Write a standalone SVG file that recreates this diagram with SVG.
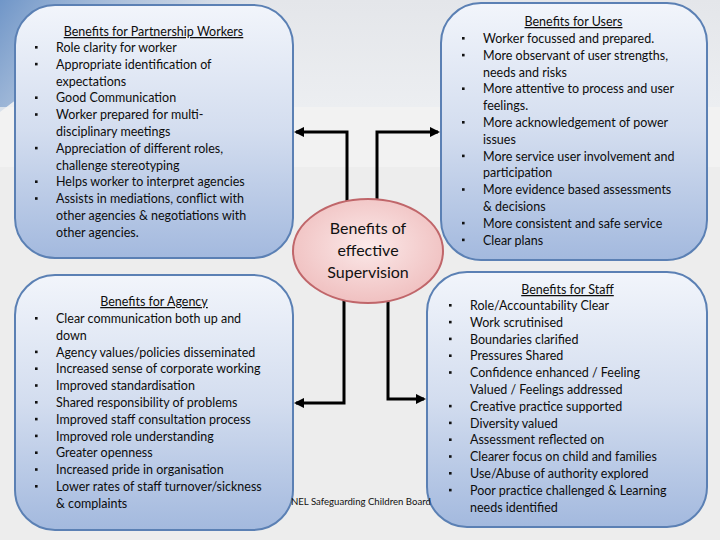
<svg xmlns="http://www.w3.org/2000/svg" width="720" height="540" viewBox="0 0 720 540">
<defs>
<linearGradient id="boxg" x1="0" y1="0" x2="0" y2="1">
<stop offset="0" stop-color="#f2f5fb"/>
<stop offset="0.5" stop-color="#d3ddef"/>
<stop offset="1" stop-color="#a3b9de"/>
</linearGradient>
<radialGradient id="ellg" cx="0.5" cy="0.45" r="0.6">
<stop offset="0" stop-color="#fbe9e9"/>
<stop offset="1" stop-color="#efbdbd"/>
</radialGradient>
<linearGradient id="topband" x1="0" y1="0" x2="0" y2="1">
<stop offset="0" stop-color="#e4e6ea"/>
<stop offset="1" stop-color="#eceef1"/>
</linearGradient>
<linearGradient id="swoosh" x1="0" y1="0" x2="1" y2="0.3">
<stop offset="0" stop-color="#7096c8"/>
<stop offset="0.6" stop-color="#a9bfdc" stop-opacity="0.6"/>
<stop offset="1" stop-color="#e4e6ea" stop-opacity="0"/>
</linearGradient>
<marker id="ah" viewBox="0 0 10 10" refX="8" refY="5" markerWidth="3.4" markerHeight="3.4" orient="auto" markerUnits="strokeWidth">
<path d="M0,0 L10,5 L0,10 z" fill="#000"/>
</marker>
<rect id="b" width="2.6" height="2.6" fill="#111"/>
</defs>
<style>
.box{fill:url(#boxg);stroke:#5b80b4;stroke-width:2}
.t{font-family:Lato,"Liberation Sans",sans-serif;font-size:12.5px;fill:#0d0d0d;}
.h{text-decoration:underline;text-anchor:middle}
.c{fill:none;stroke:#000;stroke-width:3;marker-end:url(#ah)}
.e{font-family:Lato,"Liberation Sans",sans-serif;font-size:16px;fill:#111;text-anchor:middle}
</style>
<rect width="720" height="540" fill="#ededed"/>
<rect width="720" height="107" fill="url(#topband)"/>
<path d="M0,0 L270,0 C170,18 70,55 0,112 Z" fill="url(#swoosh)"/>
<rect x="0" y="107" width="720" height="60" fill="#f3f3f3" opacity="0.7"/>

<g id="connectors">
<polyline class="c" points="347,205 347,132 296,132"/>
<polyline class="c" points="377,205 377,132 438,132"/>
<polyline class="c" points="344,298 344,403 296,403"/>
<polyline class="c" points="388,298 388,399 424,399"/>
</g>

<g id="partnership">
<rect class="box" x="15" y="5" width="278" height="253" rx="40" ry="40"/>
<text class="t h" x="153.5" y="36">Benefits for Partnership Workers</text>
<g class="t">
<text x="56" y="52">Role clarity for worker</text>
<text x="56" y="68.8">Appropriate identification of</text>
<text x="56" y="85.6">expectations</text>
<text x="56" y="102.4">Good Communication</text>
<text x="56" y="119.2">Worker prepared for multi-</text>
<text x="56" y="136">disciplinary meetings</text>
<text x="56" y="152.8">Appreciation of different roles,</text>
<text x="56" y="169.6">challenge stereotyping</text>
<text x="56" y="186.4">Helps worker to interpret agencies</text>
<text x="56" y="203.2">Assists in mediations, conflict with</text>
<text x="56" y="220">other agencies &amp; negotiations with</text>
<text x="56" y="236.8">other agencies.</text>
</g>
<use href="#b" x="35" y="46"/>
<use href="#b" x="35" y="62.8"/>
<use href="#b" x="35" y="96.4"/>
<use href="#b" x="35" y="113.2"/>
<use href="#b" x="35" y="146.8"/>
<use href="#b" x="35" y="180.4"/>
<use href="#b" x="35" y="197.2"/>
</g>

<g id="users">
<rect class="box" x="441" y="3" width="266" height="257" rx="40" ry="40"/>
<text class="t h" x="573.5" y="26">Benefits for Users</text>
<g class="t">
<text x="483" y="43">Worker focussed and prepared.</text>
<text x="483" y="59.8">More observant of user strengths,</text>
<text x="483" y="76.6">needs and risks</text>
<text x="483" y="93.4">More attentive to process and user</text>
<text x="483" y="110.2">feelings.</text>
<text x="483" y="127">More acknowledgement of power</text>
<text x="483" y="143.8">issues</text>
<text x="483" y="160.6">More service user involvement and</text>
<text x="483" y="177.4">participation</text>
<text x="483" y="194.2">More evidence based assessments</text>
<text x="483" y="211">&amp; decisions</text>
<text x="483" y="227.8">More consistent and safe service</text>
<text x="483" y="244.6">Clear plans</text>
</g>
<use href="#b" x="462" y="37"/>
<use href="#b" x="462" y="53.8"/>
<use href="#b" x="462" y="87.4"/>
<use href="#b" x="462" y="121"/>
<use href="#b" x="462" y="154.6"/>
<use href="#b" x="462" y="188.2"/>
<use href="#b" x="462" y="221.8"/>
<use href="#b" x="462" y="238.6"/>
</g>

<g id="agency">
<rect class="box" x="15" y="275" width="278" height="255" rx="40" ry="40"/>
<text class="t h" x="154" y="306">Benefits for Agency</text>
<g class="t">
<text x="56" y="323">Clear communication both up and</text>
<text x="56" y="339.8">down</text>
<text x="56" y="356.6">Agency values/policies disseminated</text>
<text x="56" y="373.4">Increased sense of corporate working</text>
<text x="56" y="390.2">Improved standardisation</text>
<text x="56" y="407">Shared responsibility of problems</text>
<text x="56" y="423.8">Improved staff consultation process</text>
<text x="56" y="440.6">Improved role understanding</text>
<text x="56" y="457.4">Greater openness</text>
<text x="56" y="474.2">Increased pride in organisation</text>
<text x="56" y="491">Lower rates of staff turnover/sickness</text>
<text x="56" y="507.8">&amp; complaints</text>
</g>
<use href="#b" x="35" y="317"/>
<use href="#b" x="35" y="350.6"/>
<use href="#b" x="35" y="367.4"/>
<use href="#b" x="35" y="384.2"/>
<use href="#b" x="35" y="401"/>
<use href="#b" x="35" y="417.8"/>
<use href="#b" x="35" y="434.6"/>
<use href="#b" x="35" y="451.4"/>
<use href="#b" x="35" y="468.2"/>
<use href="#b" x="35" y="485"/>
</g>

<g id="staff">
<rect class="box" x="427" y="272" width="280" height="255" rx="40" ry="40"/>
<text class="t h" x="567.5" y="294">Benefits for Staff</text>
<g class="t">
<text x="470" y="310">Role/Accountability Clear</text>
<text x="470" y="326.8">Work scrutinised</text>
<text x="470" y="343.6">Boundaries clarified</text>
<text x="470" y="360.4">Pressures Shared</text>
<text x="470" y="377.2">Confidence enhanced / Feeling</text>
<text x="470" y="394">Valued / Feelings addressed</text>
<text x="470" y="410.8">Creative practice supported</text>
<text x="470" y="427.6">Diversity valued</text>
<text x="470" y="444.4">Assessment reflected on</text>
<text x="470" y="461.2">Clearer focus on child and families</text>
<text x="470" y="478">Use/Abuse of authority explored</text>
<text x="470" y="494.8">Poor practice challenged &amp; Learning</text>
<text x="470" y="511.6">needs identified</text>
</g>
<use href="#b" x="449" y="304"/>
<use href="#b" x="449" y="320.8"/>
<use href="#b" x="449" y="337.6"/>
<use href="#b" x="449" y="354.4"/>
<use href="#b" x="449" y="371.2"/>
<use href="#b" x="449" y="404.8"/>
<use href="#b" x="449" y="421.6"/>
<use href="#b" x="449" y="438.4"/>
<use href="#b" x="449" y="455.2"/>
<use href="#b" x="449" y="472"/>
<use href="#b" x="449" y="488.8"/>
</g>

<g id="center">
<ellipse cx="368" cy="251" rx="75" ry="52" fill="url(#ellg)" stroke="#c0666a" stroke-width="2"/>
<text class="e" x="368" y="233.5">Benefits of</text>
<text class="e" x="368" y="255.5">effective</text>
<text class="e" x="368" y="277.5">Supervision</text>
</g>

<text id="footer" x="291" y="505" font-family="Lato,'Liberation Sans',sans-serif" font-size="9.6px" fill="#111">NEL Safeguarding Children Board</text>
</svg>
